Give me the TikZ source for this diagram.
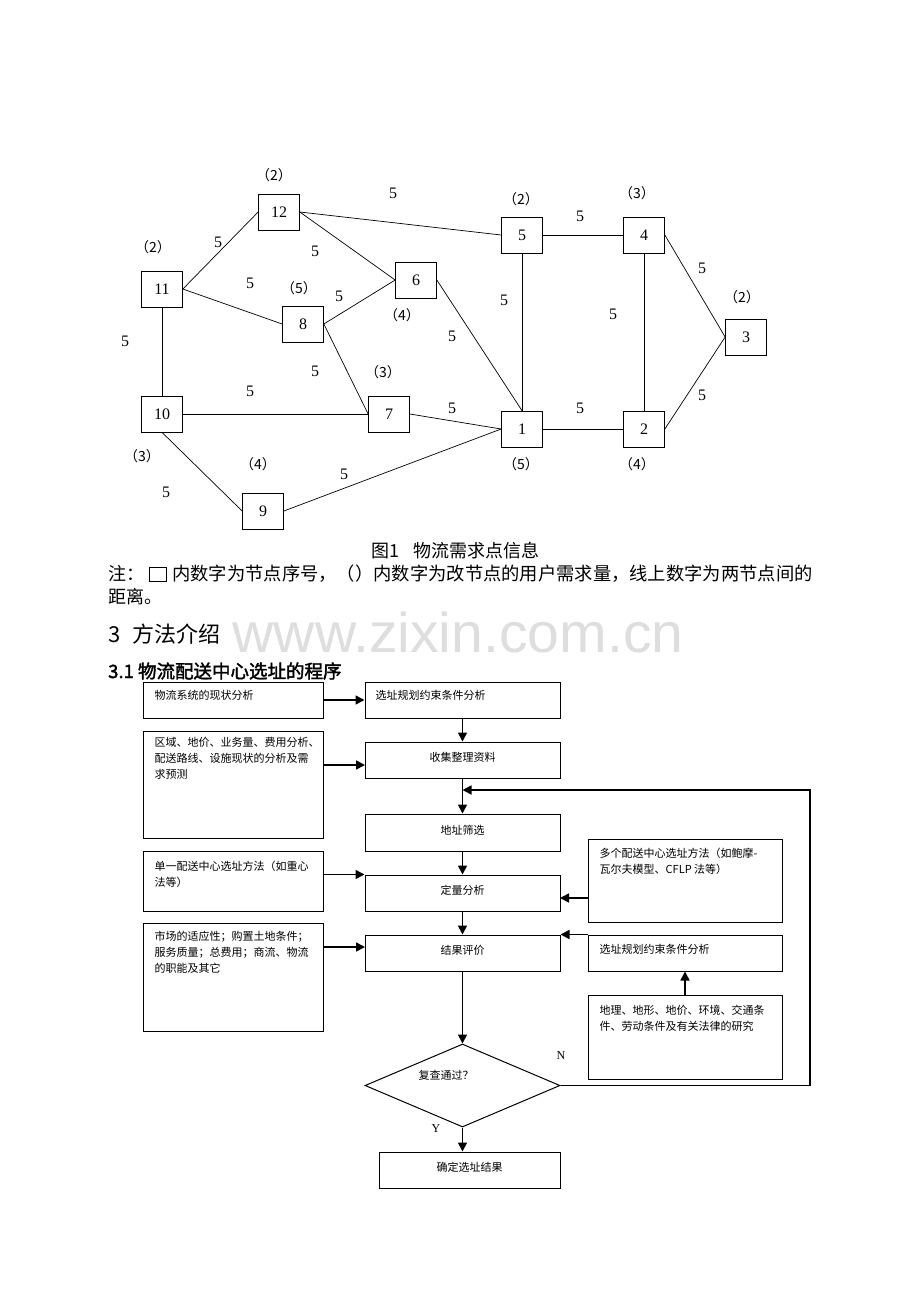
\documentclass[tikz,border=0pt]{standalone}
\usepackage{fontspec}
\setmainfont{Liberation Serif}
\newfontfamily\cjk{Noto Sans CJK SC}
\newfontfamily\cjkb[FakeBold=2]{Noto Sans CJK SC}
\newfontfamily\wmfont{Liberation Sans}
\usetikzlibrary{arrows.meta,shapes.geometric}
\definecolor{wmgray}{RGB}{222,222,222}
\tikzset{
  gbox/.style={draw, line width=0.7pt, minimum width=41pt, minimum height=36pt, inner sep=0pt, font=\fontsize{16}{16}\selectfont},
  glab/.style={inner sep=0pt, font=\fontsize{16}{16}\selectfont},
  dem/.style={inner sep=0pt, font=\cjk\fontsize{14}{14}\selectfont},
  gedge/.style={line width=0.7pt},
  fbox/.style={draw, line width=1pt, inner sep=0pt},
  ftxt/.style={inner sep=0pt, align=left, font=\cjk\fontsize{11}{16}\selectfont},
  ctxt/.style={inner sep=0pt, font=\cjk\fontsize{11}{16}\selectfont},
  arr/.style={line width=1.6pt, -{Triangle[length=9pt,width=9pt]}},
  yn/.style={inner sep=0pt, font=\fontsize{12}{12}\selectfont},
  body/.style={inner sep=0pt, font=\cjk\fontsize{18}{18}\selectfont}
}
\begin{document}
\begin{tikzpicture}[x=1pt,y=-1pt]
\path[use as bounding box, fill=white] (0,0) rectangle (920,1302);

% ---------------- network graph ----------------
\node[gbox] (n12) at (279,212) {12};
\node[gbox] (n11) at (162,289) {11};
\node[gbox] (n8) at (303,324) {8};
\node[gbox] (n6) at (416,280) {6};
\node[gbox] (n10) at (162,414) {10};
\node[gbox] (n7) at (389,414) {7};
\node[gbox] (n9) at (263,511) {9};
\node[gbox] (n1) at (522,429) {1};
\node[gbox] (n5) at (522,235) {5};
\node[gbox] (n4) at (644,235) {4};
\node[gbox] (n2) at (644,429) {2};
\node[gbox] (n3) at (746,337) {3};

\draw[gedge] (n11.east) -- (n12.west);
\draw[gedge] (n11.east) -- (n8.west);
\draw[gedge] (n11.south) -- (n10.north);
\draw[gedge] (n12.east) -- (n5.west);
\draw[gedge] (n12.east) -- (n6.west);
\draw[gedge] (n8.east) -- (n6.west);
\draw[gedge] (n8.east) -- (n7.west);
\draw[gedge] (n10.east) -- (n7.west);
\draw[gedge] (n10.south) -- (n9.west);
\draw[gedge] (n9.east) -- (n1.west);
\draw[gedge] (n7.east) -- (n1.west);
\draw[gedge] (n6.east) -- (n1.north);
\draw[gedge] (n5.south) -- (n1.north);
\draw[gedge] (n5.east) -- (n4.west);
\draw[gedge] (n4.south) -- (n2.north);
\draw[gedge] (n1.east) -- (n2.west);
\draw[gedge] (n4.east) -- (n3.west);
\draw[gedge] (n2.east) -- (n3.west);

% distance labels
\node[glab] (w1) at (393,193) {5};
\node[glab] (w2) at (218,242) {5};
\node[glab] (w3) at (315,251) {5};
\node[glab] (w4) at (250,283) {5};
\node[glab] (w5) at (339,296) {5};
\node[glab] (w6) at (504,300) {5};
\node[glab] (w7) at (125,341) {5};
\node[glab] (w8) at (452,336) {5};
\node[glab] (w9) at (315,371) {5};
\node[glab] (w10) at (250,391) {5};
\node[glab] (w11) at (452,408) {5};
\node[glab] (w12) at (166,492) {5};
\node[glab] (w13) at (344,474) {5};
\node[glab] (w14) at (580,216) {5};
\node[glab] (w15) at (702,268) {5};
\node[glab] (w16) at (613,314) {5};
\node[glab] (w17) at (702,395) {5};
\node[glab] (w18) at (580,408) {5};

% demand labels
\node[dem] (d12) at (274,175) {（2）};
\node[dem] (d11) at (153,247) {（2）};
\node[dem] (d8) at (299,288) {（5）};
\node[dem] (d6) at (402,315) {（4）};
\node[dem] (d7) at (383,372) {（3）};
\node[dem] (d10) at (142,456) {（3）};
\node[dem] (d9) at (258,464) {（4）};
\node[dem] (d5) at (521,199) {（2）};
\node[dem] (d1) at (521,464) {（5）};
\node[dem] (d4) at (637,193) {（3）};
\node[dem] (d3) at (742,297) {（2）};
\node[dem] (d2) at (637,464) {（4）};

% ---------------- caption and text ----------------
\node[body, anchor=west] (cap) at (371,551) {图1\hspace{14pt}物流需求点信息};
\node[body, anchor=west] (note1) at (108,574) {注：};
\draw[line width=1pt] (149,567) rectangle (166,581);
\node[body, anchor=west, font=\cjk\fontsize{18.3}{18.3}\selectfont] (note2) at (172,574) {内数字为节点序号，（）内数字为改节点的用户需求量，线上数字为两节点间的};
\node[body, anchor=west] (note3) at (108,597) {距离。};

\node[inner sep=0pt, text=wmgray, font=\wmfont\fontsize{56}{56}\selectfont, xscale=1.02] (wm) at (458,632) {www.zixin.com.cn};
\node[inner sep=0pt, anchor=west, font=\cjk\fontsize{22}{22}\selectfont] (sec) at (108,634) {3\hspace{12pt}方法介绍};
\node[inner sep=0pt, anchor=west, font=\cjkb\fontsize{18.5}{18.5}\selectfont] (sub) at (108,671) {3.1 物流配送中心选址的程序};

% ---------------- flowchart ----------------
\node[fbox, minimum width=180pt, minimum height=36pt] (A) at (233,700) {};
\node[fbox, minimum width=195pt, minimum height=36pt] (B) at (462.5,700) {};
\node[fbox, minimum width=195pt, minimum height=36pt] (C) at (462.5,760) {};
\node[fbox, minimum width=180pt, minimum height=107pt] (D) at (233,784.5) {};
\node[fbox, minimum width=195pt, minimum height=37pt] (E) at (462.5,832.5) {};
\node[fbox, minimum width=180pt, minimum height=60pt] (F) at (233,881) {};
\node[fbox, minimum width=195pt, minimum height=36pt] (G) at (462.5,893) {};
\node[fbox, minimum width=194pt, minimum height=83pt] (H) at (685,880.5) {};
\node[fbox, minimum width=195pt, minimum height=36pt] (I) at (462.5,953) {};
\node[fbox, minimum width=180pt, minimum height=108pt] (J) at (233,977) {};
\node[fbox, minimum width=194pt, minimum height=36pt] (K) at (685,953) {};
\node[fbox, minimum width=194pt, minimum height=84pt] (L) at (685,1037) {};
\node[draw, line width=1pt, shape=diamond, inner sep=0pt, minimum width=195pt, minimum height=83pt] (Q) at (462.5,1085.5) {};
\node[fbox, minimum width=181pt, minimum height=36pt] (M) at (469.5,1170) {};

% texts
\node[ftxt, anchor=north west] (tA) at ([xshift=12pt,yshift=-9pt]A.north west) {物流系统的现状分析};
\node[ftxt, anchor=north west] (tB) at ([xshift=11pt,yshift=-9pt]B.north west) {选址规划约束条件分析};
\node[ctxt] (tC) at (462.5,757) {收集整理资料};
\node[ftxt, anchor=north west] (tD) at ([xshift=12pt,yshift=-7pt]D.north west) {区域、地价、业务量、费用分析、\\配送路线、设施现状的分析及需\\求预测};
\node[ctxt] (tE) at (462.5,830) {地址筛选};
\node[ftxt, anchor=north west] (tF) at ([xshift=12pt,yshift=-10pt]F.north west) {单一配送中心选址方法（如重心\\法等）};
\node[ctxt] (tG) at (462.5,890) {定量分析};
\node[ftxt, anchor=north west] (tH) at ([xshift=12pt,yshift=-9pt]H.north west) {多个配送中心选址方法（如鲍摩-\\瓦尔夫模型、CFLP 法等）};
\node[ctxt] (tI) at (462.5,950) {结果评价};
\node[ftxt, anchor=north west] (tJ) at ([xshift=12pt,yshift=-8pt]J.north west) {市场的适应性；购置土地条件；\\服务质量；总费用；商流、物流\\的职能及其它};
\node[ftxt, anchor=north west] (tK) at ([xshift=12pt,yshift=-10pt]K.north west) {选址规划约束条件分析};
\node[ftxt, anchor=north west] (tL) at ([xshift=12pt,yshift=-10pt]L.north west) {地理、地形、地价、环境、交通条\\件、劳动条件及有关法律的研究};
\node[ctxt] (tQ) at (446,1075) {复查通过？};
\node[ctxt] (tM) at (469.5,1167) {确定选址结果};
\node[yn] (lN) at (561,1056) {N};
\node[yn] (lY) at (436,1129) {Y};

% connectors
\coordinate (dc) at (365,765);
\coordinate (fb) at (810,790);
\coordinate (hg) at (560,898);
\coordinate (ji) at (365,947);

\draw[arr] (A.east) -- (B.west);
\draw[arr] (B.south) -- (C.north);
\draw[arr] (D.east |- dc) -- (dc);
\draw[arr] (C.south) -- (E.north);
\draw[arr] (Q.east) -| (fb) -- (C.south |- fb);
\draw[arr] (E.south) -- (G.north);
\draw[arr] (F.east |- G.north west) -- (G.north west);
\draw[arr] (H.west |- hg) -- (hg);
\draw[arr] (G.south) -- (I.north);
\draw[arr] (J.east |- ji) -- (ji);
\draw[arr] (K.north west) -- (I.north east);
\draw[arr] (L.north) -- (K.south);
\draw[arr] (I.south) -- (Q.north);
\draw[arr] (Q.south) -- (Q.south |- M.north);
\end{tikzpicture}
\end{document}
